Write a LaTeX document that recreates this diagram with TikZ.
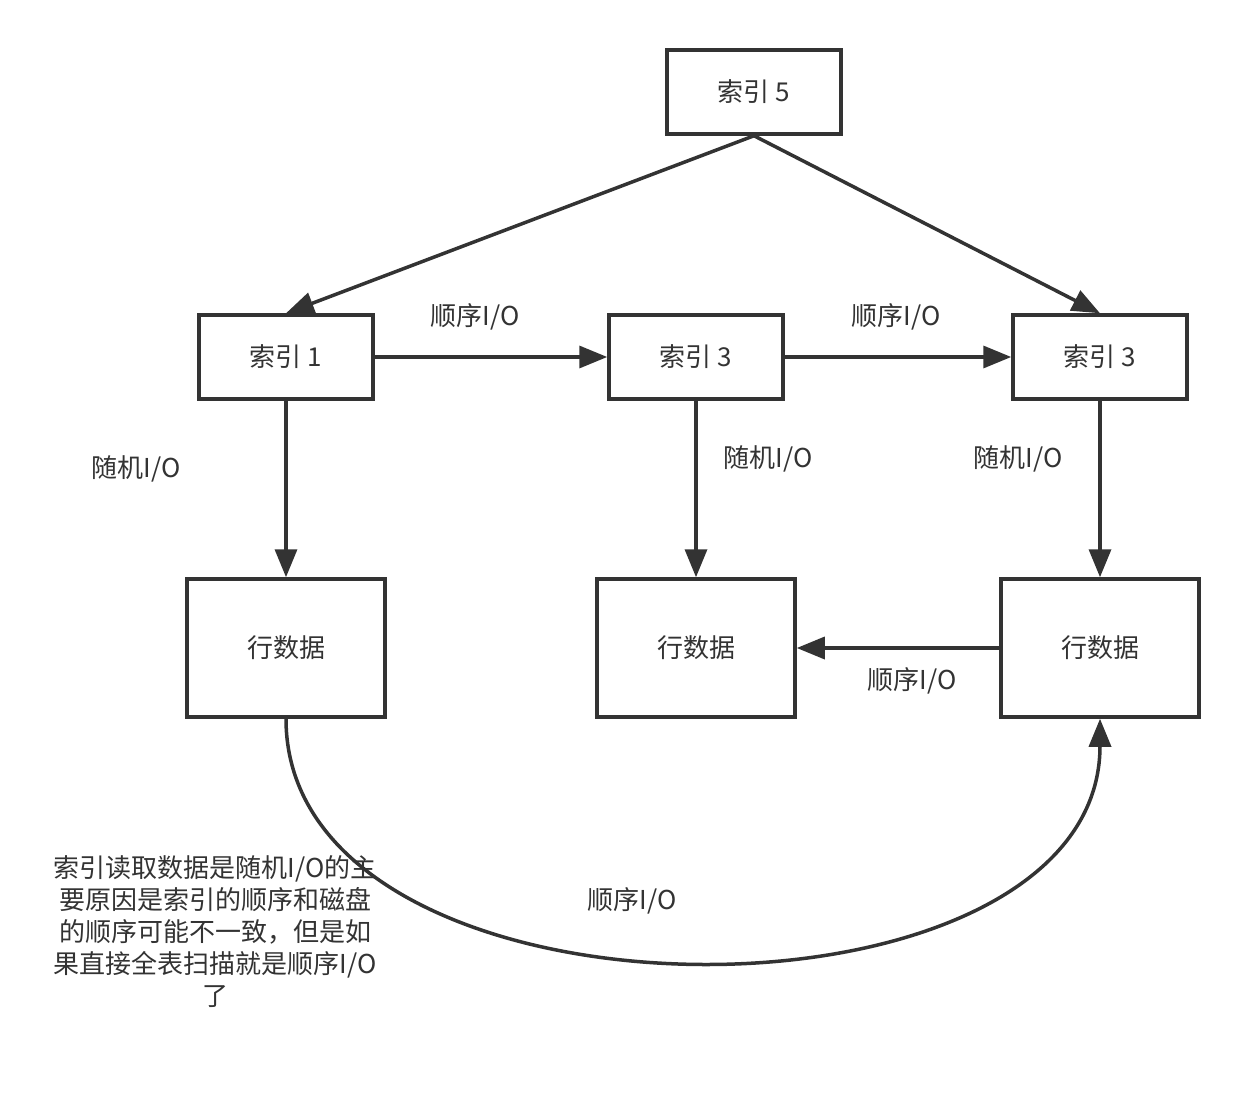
\documentclass[tikz,border=0pt]{standalone}
\usepackage{fontspec}
\setmainfont{Noto Sans CJK SC}
\usetikzlibrary{arrows.meta}
\definecolor{ink}{HTML}{333333}
\begin{document}
\begin{tikzpicture}[x=1pt,y=-1pt,
  box/.style={draw=ink, line width=3.5pt, minimum width=174pt, minimum height=84pt, inner sep=0pt, text=ink, font=\fontsize{26}{31}\selectfont},
  databox/.style={box, minimum width=198pt, minimum height=138pt},
  lbl/.style={text=ink, font=\fontsize{26}{31}\selectfont, inner sep=0pt},
  conn/.style={draw=ink, line width=3.5pt, -{Triangle[length=28pt,width=22pt]}}]
\useasboundingbox (0,0) rectangle (1250,1094);
\node[box] (n5) at (754,92) {索引 5};
\node[box] (n1) at (286,357) {索引 1};
\node[box] (n3a) at (696,357) {索引 3};
\node[box] (n3b) at (1100,357) {索引 3};
\node[databox] (r1) at (286,648) {行数据};
\node[databox] (r2) at (696,648) {行数据};
\node[databox] (r3) at (1100,648) {行数据};
\draw[conn] (n5.south) -- (n1.north);
\draw[conn] (n5.south) -- (n3b.north);
\draw[conn] (n1.east) -- (n3a.west);
\draw[conn] (n3a.east) -- (n3b.west);
\draw[conn] (n1.south) -- (r1.north);
\draw[conn] (n3a.south) -- (r2.north);
\draw[conn] (n3b.south) -- (r3.north);
\draw[conn] (r3.west) -- (r2.east);
\draw[conn] (r1.south) .. controls +(0,323) and +(0,323) .. (r3.south);
\node[lbl] (l1) at (475,317) {顺序I/O};
\node[lbl] (l2) at (896,317) {顺序I/O};
\node[lbl] (l3) at (136,469) {随机I/O};
\node[lbl] (l4) at (768,459) {随机I/O};
\node[lbl] (l5) at (1018,459) {随机I/O};
\node[lbl] (l6) at (912,681) {顺序I/O};
\node[lbl] (l7) at (632,901) {顺序I/O};
\node[lbl, align=center, font=\fontsize{26}{32}\selectfont] (note) at (215,932) {索引读取数据是随机I/O的主\\要原因是索引的顺序和磁盘\\的顺序可能不一致，但是如\\果直接全表扫描就是顺序I/O\\了};
\end{tikzpicture}
\end{document}
